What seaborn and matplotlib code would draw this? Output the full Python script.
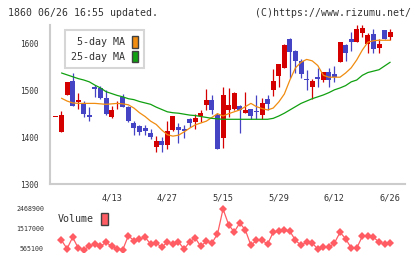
import numpy as np
import pandas as pd
import matplotlib
matplotlib.use('Agg')
import matplotlib.pyplot as plt
import seaborn as sns
from matplotlib.patches import Patch

# daily candles, index 0 .. 60 (3/30 .. 6/26)
opens = [1443, 1412, 1491, 1521, 1475, 1474, 1448, 1507, 1506, 1485,
         1444, 1471, 1487, 1466, 1430, 1425, 1421, 1410, 1380, 1393,
         1384, 1416, 1423, 1418, 1439, 1434, 1446, 1469, 1480, 1448,
         1400, 1459, 1461, 1467, 1453, 1461, 1456, 1448, 1482, 1502,
         1531, 1549, 1611, 1586, 1564, 1524, 1507, 1529, 1523, 1540,
         1536, 1562, 1598, 1611, 1605, 1624, 1601, 1621, 1591, 1630,
         1616]
highs = [1443, 1457, 1519, 1537, 1495, 1479, 1466, 1512, 1510, 1502,
         1468, 1478, 1493, 1467, 1436, 1427, 1427, 1418, 1403, 1402,
         1435, 1447, 1432, 1427, 1441, 1450, 1459, 1503, 1491, 1452,
         1509, 1505, 1498, 1470, 1498, 1462, 1491, 1484, 1491, 1547,
         1558, 1600, 1612, 1587, 1567, 1544, 1525, 1548, 1540, 1548,
         1553, 1605, 1599, 1625, 1640, 1640, 1624, 1632, 1610, 1630,
         1631]
lows = [1443, 1412, 1491, 1468, 1462, 1444, 1436, 1486, 1482, 1448,
        1441, 1462, 1465, 1434, 1405, 1405, 1405, 1396, 1368, 1370,
        1375, 1415, 1389, 1400, 1423, 1418, 1434, 1459, 1450, 1375,
        1377, 1443, 1458, 1410, 1452, 1439, 1439, 1439, 1459, 1489,
        1509, 1548, 1527, 1537, 1527, 1502, 1483, 1509, 1519, 1509,
        1519, 1562, 1564, 1584, 1604, 1614, 1580, 1581, 1581, 1610,
        1608]
closes = [1443, 1448, 1519, 1468, 1480, 1450, 1444, 1504, 1485, 1450,
          1459, 1473, 1466, 1435, 1421, 1412, 1415, 1402, 1393, 1384,
          1414, 1446, 1416, 1413, 1430, 1442, 1452, 1480, 1459, 1375,
          1491, 1470, 1496, 1458, 1459, 1447, 1454, 1474, 1472, 1521,
          1557, 1598, 1583, 1564, 1536, 1522, 1521, 1525, 1540, 1523,
          1530, 1605, 1581, 1605, 1632, 1634, 1619, 1589, 1600, 1610,
          1625]

ma5 = [np.nan, 1484, 1478, 1474, 1473, 1473, 1473, 1473, 1472, 1471,
       1472, 1473, 1472, 1470, 1463, 1453, 1445, 1435, 1428, 1416,
       1406, 1403, 1405, 1412, 1420, 1427, 1431, 1435, 1443, 1451,
       1446, 1451, 1455, 1459, 1466, 1473, 1466, 1462, 1459, 1463,
       1476, 1493, 1523, 1549, 1561, 1567, 1564, 1554, 1533, 1529,
       1529, 1529, 1538, 1549, 1566, 1587, 1604, 1607, 1608, 1608,
       1608]
ma25 = [np.nan, 1538, 1534, 1530, 1526, 1523, 1519, 1512, 1506, 1498,
        1494, 1490, 1487, 1483, 1481, 1477, 1474, 1471, 1465, 1460,
        1455, 1453, 1452, 1450, 1448, 1447, 1445, 1443, 1441, 1440,
        1439, 1439, 1439, 1439, 1439, 1439, 1439, 1439, 1439, 1441,
        1446, 1452, 1459, 1466, 1473, 1478, 1483, 1487, 1491, 1496,
        1502, 1506, 1511, 1519, 1523, 1533, 1539, 1542, 1545, 1553,
        1561]

volume = [np.nan, 951000, 556000, 1093000, 589000, 509000, 669000, 791000, 669000, 857000,
          669000, 542000, 509000, 1168000, 933000, 1013000, 1093000, 777000, 824000, 622000,
          871000, 777000, 871000, 542000, 871000, 1060000, 669000, 904000, 824000, 1248000,
          2426000, 1687000, 1343000, 1767000, 1437000, 716000, 951000, 951000, 777000, 1329000,
          1376000, 1423000, 1376000, 951000, 716000, 871000, 824000, 542000, 622000, 622000,
          824000, 1329000, 1027000, 589000, 589000, 1140000, 1140000, 1093000, 871000, 777000,
          824000]

date_labels = ['4/13', '4/27', '5/15', '5/29', '6/12', '6/26']
date_pos = [10, 20, 30, 40, 50, 60]
vol_ticks = [565100, 1517000, 2468900]

RED = '#d40000'
BLUE = '#4444c4'
ORANGE = '#f08c10'
GREEN = '#10a010'
PINK = '#ff5c64'
GRAY = '#cccccc'
TXT = '#333333'

df = pd.DataFrame({'open': opens, 'high': highs, 'low': lows, 'close': closes,
                   'ma5': ma5, 'ma25': ma25, 'volume': volume})
df['x'] = np.arange(len(df))
colors = np.where(df.close >= df.open, RED, BLUE)

sns.set_style('white')
plt.rcParams['font.family'] = ['DejaVu Sans Mono']

W, H = 420, 259
fig = plt.figure(figsize=(W / 100, H / 100), dpi=100)


def px_axes(l, t, r, b):
    return fig.add_axes([l / W, 1 - b / H, (r - l) / W, (b - t) / H])


ax = px_axes(50, 25, 405, 184.3)
axv = px_axes(50, 205, 405, 252)
xlim = (-1.064, 62.66)

# candles
ax.vlines(df.x, df.low, df.high, colors=colors, lw=0.9, zorder=2)
body = (df.close - df.open).abs().clip(lower=2.2)
ax.bar(df.x, body, bottom=np.minimum(df.open, df.close), width=0.9,
       color=colors, linewidth=0, zorder=3)

sns.lineplot(data=df, x='x', y='ma5', ax=ax, color=ORANGE, lw=0.9, zorder=4)
sns.lineplot(data=df, x='x', y='ma25', ax=ax, color=GREEN, lw=0.9, zorder=4)

ax.set_xlim(*xlim)
ax.set_ylim(1300, 1640.6)
ax.set_xlabel('')
ax.set_ylabel('')
for s in ['top', 'right']:
    ax.spines[s].set_visible(False)
for s in ['left', 'bottom']:
    ax.spines[s].set_color(GRAY)
    ax.spines[s].set_linewidth(1.5)
ax.set_yticks([1300, 1400, 1500, 1600])
ax.tick_params(axis='y', direction='inout', length=5.8, width=1.2, color=GRAY,
               labelsize=5.6, labelcolor=TXT, pad=5)
ax.set_xticks(np.linspace(xlim[0], xlim[1], 12))
ax.set_xticklabels([])
ax.set_xticks(date_pos, minor=True)
ax.set_xticklabels(date_labels, minor=True)
ax.tick_params(axis='x', which='major', direction='inout', length=6.5, width=1.2, color=GRAY)
ax.tick_params(axis='x', which='minor', length=0, labelsize=6.2, labelcolor=TXT, pad=6.5)

leg = ax.legend(handles=[Patch(fc=ORANGE, ec='#404040', lw=1, label='5-day MA'),
                         Patch(fc=GREEN, ec='#404040', lw=1, label='25-day MA')],
                loc='upper left', bbox_to_anchor=(65 / W, 1 - 30 / H),
                bbox_transform=fig.transFigure, borderaxespad=0,
                markerfirst=False, handlelength=0.6, handleheight=1.4,
                handletextpad=0.7, borderpad=0.6, labelspacing=0.33,
                frameon=True, fancybox=False, edgecolor=GRAY, facecolor='none',
                prop={'family': 'DejaVu Sans Mono', 'size': 7.2})
leg.get_frame().set_linewidth(1.5)
for t in leg.get_texts():
    t.set_color(TXT)

# volume
sns.lineplot(data=df, x='x', y='volume', ax=axv, color=PINK, lw=0.9,
             marker='D', markersize=4, markeredgewidth=0)
axv.set_xlim(*xlim)
axv.set_ylim(400000, 2615000)
axv.set_xlabel('')
axv.set_ylabel('')
for s in axv.spines.values():
    s.set_visible(False)
axv.set_xticks([])
axv.set_yticks(vol_ticks)
axv.set_yticklabels([str(v) for v in vol_ticks])
axv.tick_params(axis='y', length=0, labelsize=4.8, labelcolor=TXT, pad=4.3)
axv.patch.set_alpha(0)

vleg = axv.legend(handles=[Patch(fc=PINK, ec='#404040', lw=1, label='Volume')],
                  loc='upper left', bbox_to_anchor=(58 / W, 1 - 213 / H),
                  bbox_transform=fig.transFigure, borderaxespad=0, borderpad=0,
                  markerfirst=False, handlelength=0.65, handleheight=1.5,
                  handletextpad=0.7, frameon=False,
                  prop={'family': 'DejaVu Sans Mono', 'size': 7.2})
for t in vleg.get_texts():
    t.set_color(TXT)

fig.text(8 / W, 1 - 12.7 / H, '1860 06/26 16:55 updated.', fontsize=7.1,
         color=TXT, va='center', ha='left')
fig.text(411 / W, 1 - 12.7 / H, '(C)https://www.rizumu.net/', fontsize=7.1,
         color=TXT, va='center', ha='right')

fig.savefig('out.png', dpi=100, facecolor='white')
